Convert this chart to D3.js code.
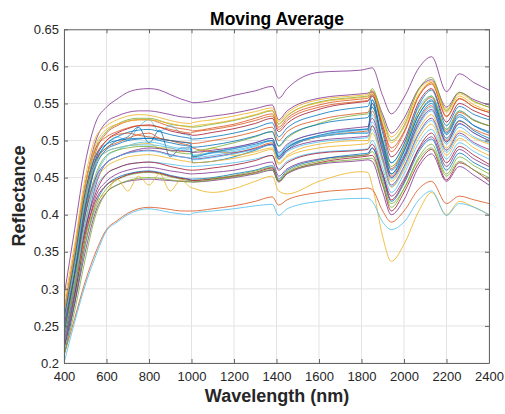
<!DOCTYPE html>
<html>
<head>
<meta charset="utf-8">
<script src="https://cdn.jsdelivr.net/npm/d3@7"></script>
<style>
  body { margin: 0; background: #fff; }
  svg { display: block; font-family: "Liberation Sans", Arial, sans-serif; }
</style>
</head>
<body>
<svg id="chart" width="505" height="414"></svg>
<script>
// ---------- DATA ----------
const wavelengths = [400,450,500,550,600,650,700,750,800,850,900,950,995,1005,1100,1200,1300,1380,1410,1450,1600,1800,1830,1850,1900,1940,2000,2070,2130,2200,2260,2330,2400];
const xTicks = [400,600,800,1000,1200,1400,1600,1800,2000,2200,2400];
const yTicks = [0.2,0.25,0.3,0.35,0.4,0.45,0.5,0.55,0.6,0.65];

const r01 = [0.29,0.38,0.47,0.525,0.545,0.556,0.565,0.569,0.570,0.568,0.562,0.556,0.552,0.551,0.554,0.561,0.567,0.573,0.557,0.570,0.592,0.595,0.597,0.598,0.560,0.536,0.558,0.598,0.613,0.566,0.590,0.578,0.568];
const r02 = [0.27,0.35,0.44,0.50,0.525,0.533,0.538,0.540,0.540,0.538,0.535,0.532,0.531,0.530,0.533,0.537,0.543,0.548,0.528,0.540,0.557,0.563,0.564,0.566,0.535,0.510,0.530,0.570,0.582,0.545,0.565,0.555,0.548];
const r03 = [0.28,0.36,0.45,0.505,0.52,0.528,0.533,0.535,0.534,0.531,0.527,0.524,0.523,0.524,0.528,0.533,0.539,0.544,0.526,0.537,0.555,0.561,0.562,0.568,0.53,0.505,0.525,0.568,0.58,0.542,0.563,0.552,0.545];
const r04 = [0.26,0.34,0.43,0.49,0.512,0.522,0.528,0.53,0.53,0.527,0.522,0.52,0.519,0.518,0.522,0.527,0.534,0.54,0.522,0.533,0.552,0.559,0.56,0.57,0.53,0.50,0.52,0.57,0.585,0.54,0.565,0.553,0.545];
const r05 = [0.25,0.33,0.42,0.485,0.51,0.52,0.526,0.528,0.528,0.524,0.519,0.516,0.514,0.513,0.517,0.522,0.53,0.536,0.518,0.53,0.548,0.556,0.557,0.565,0.52,0.49,0.512,0.56,0.576,0.532,0.556,0.545,0.538];
const r06 = [0.24,0.32,0.41,0.47,0.495,0.505,0.50,0.518,0.528,0.512,0.52,0.51,0.506,0.48,0.485,0.49,0.497,0.503,0.482,0.493,0.51,0.515,0.515,0.555,0.50,0.47,0.495,0.545,0.56,0.515,0.54,0.528,0.52];
const r07 = [0.24,0.32,0.41,0.475,0.50,0.51,0.516,0.52,0.521,0.518,0.513,0.51,0.508,0.507,0.511,0.516,0.523,0.53,0.512,0.523,0.542,0.552,0.553,0.562,0.515,0.478,0.50,0.552,0.57,0.525,0.55,0.54,0.532];
const r08 = [0.23,0.31,0.40,0.47,0.495,0.505,0.511,0.514,0.515,0.512,0.508,0.505,0.503,0.502,0.505,0.51,0.517,0.524,0.505,0.517,0.535,0.545,0.546,0.56,0.51,0.47,0.495,0.548,0.568,0.52,0.546,0.535,0.528];
const r09 = [0.26,0.34,0.43,0.48,0.50,0.508,0.51,0.507,0.505,0.503,0.50,0.498,0.497,0.496,0.50,0.505,0.512,0.518,0.50,0.512,0.528,0.537,0.538,0.55,0.50,0.462,0.49,0.54,0.558,0.512,0.538,0.527,0.52];
const r10 = [0.25,0.33,0.42,0.475,0.49,0.50,0.505,0.518,0.497,0.514,0.478,0.49,0.49,0.47,0.472,0.478,0.487,0.495,0.475,0.487,0.505,0.51,0.51,0.555,0.49,0.455,0.485,0.535,0.555,0.51,0.535,0.52,0.51];
const r11 = [0.24,0.32,0.41,0.47,0.49,0.497,0.503,0.508,0.51,0.503,0.50,0.496,0.493,0.49,0.485,0.484,0.49,0.497,0.478,0.49,0.505,0.512,0.513,0.54,0.49,0.452,0.478,0.528,0.547,0.50,0.526,0.515,0.507];
const r12 = [0.22,0.30,0.385,0.45,0.478,0.487,0.493,0.497,0.498,0.496,0.492,0.489,0.487,0.477,0.48,0.485,0.492,0.50,0.48,0.492,0.506,0.514,0.515,0.535,0.487,0.45,0.475,0.525,0.545,0.498,0.522,0.51,0.50];
const r13 = [0.25,0.33,0.42,0.47,0.485,0.49,0.493,0.495,0.496,0.49,0.49,0.485,0.485,0.478,0.49,0.48,0.485,0.49,0.47,0.48,0.495,0.50,0.50,0.52,0.478,0.445,0.47,0.515,0.535,0.49,0.513,0.503,0.495];
const r14 = [0.22,0.29,0.375,0.44,0.47,0.478,0.483,0.486,0.487,0.485,0.481,0.478,0.476,0.475,0.478,0.483,0.489,0.495,0.476,0.487,0.50,0.505,0.506,0.52,0.475,0.44,0.465,0.51,0.53,0.487,0.51,0.497,0.488];
const r15 = [0.24,0.31,0.39,0.445,0.465,0.473,0.478,0.48,0.481,0.479,0.476,0.473,0.471,0.47,0.472,0.476,0.482,0.488,0.468,0.478,0.49,0.495,0.496,0.51,0.47,0.437,0.46,0.503,0.522,0.48,0.503,0.49,0.48];
const r16 = [0.23,0.30,0.38,0.435,0.455,0.463,0.468,0.47,0.471,0.47,0.468,0.466,0.465,0.465,0.467,0.47,0.475,0.48,0.462,0.472,0.484,0.488,0.489,0.50,0.462,0.43,0.455,0.497,0.515,0.475,0.497,0.485,0.475];
const r17 = [0.22,0.29,0.37,0.425,0.445,0.455,0.46,0.463,0.464,0.462,0.459,0.457,0.455,0.455,0.457,0.46,0.466,0.471,0.452,0.462,0.475,0.48,0.481,0.49,0.455,0.425,0.448,0.488,0.505,0.465,0.488,0.475,0.465];
const r18 = [0.21,0.28,0.36,0.415,0.44,0.45,0.455,0.458,0.459,0.457,0.453,0.45,0.448,0.448,0.45,0.455,0.46,0.466,0.448,0.46,0.474,0.482,0.483,0.49,0.45,0.418,0.442,0.485,0.502,0.46,0.483,0.47,0.46];
const r19 = [0.22,0.285,0.36,0.41,0.435,0.447,0.453,0.456,0.457,0.455,0.451,0.448,0.446,0.446,0.449,0.453,0.459,0.464,0.446,0.458,0.472,0.48,0.481,0.485,0.445,0.41,0.435,0.478,0.495,0.455,0.478,0.466,0.455];
const r20 = [0.23,0.295,0.37,0.42,0.44,0.448,0.454,0.457,0.458,0.456,0.452,0.449,0.447,0.446,0.448,0.452,0.457,0.463,0.445,0.456,0.47,0.478,0.479,0.48,0.44,0.405,0.43,0.47,0.488,0.447,0.47,0.46,0.445];
const r21 = [0.22,0.28,0.35,0.405,0.43,0.44,0.445,0.447,0.448,0.447,0.446,0.445,0.445,0.444,0.446,0.45,0.455,0.46,0.444,0.455,0.468,0.473,0.474,0.472,0.43,0.40,0.42,0.465,0.482,0.445,0.465,0.453,0.44];
const r22 = [0.24,0.30,0.37,0.415,0.43,0.448,0.432,0.452,0.44,0.455,0.432,0.447,0.437,0.436,0.43,0.435,0.445,0.452,0.432,0.428,0.445,0.458,0.457,0.44,0.37,0.337,0.36,0.405,0.43,0.40,0.418,0.41,0.40];
const r23 = [0.21,0.26,0.31,0.35,0.38,0.392,0.402,0.408,0.41,0.409,0.407,0.405,0.405,0.405,0.408,0.412,0.418,0.424,0.413,0.42,0.43,0.435,0.436,0.434,0.405,0.39,0.405,0.435,0.445,0.415,0.425,0.42,0.415];
const r24 = [0.20,0.255,0.305,0.345,0.378,0.39,0.40,0.406,0.408,0.406,0.403,0.401,0.40,0.402,0.405,0.408,0.412,0.414,0.399,0.408,0.418,0.422,0.422,0.418,0.39,0.38,0.39,0.42,0.432,0.399,0.415,0.41,0.40];
const r25 = [0.24,0.31,0.40,0.455,0.48,0.487,0.49,0.492,0.492,0.49,0.486,0.483,0.482,0.484,0.49,0.497,0.505,0.512,0.492,0.503,0.523,0.535,0.536,0.545,0.50,0.465,0.49,0.54,0.56,0.515,0.54,0.527,0.52];
const r26 = [0.27,0.35,0.44,0.49,0.505,0.512,0.517,0.52,0.52,0.518,0.515,0.512,0.51,0.511,0.515,0.52,0.527,0.533,0.515,0.527,0.545,0.553,0.554,0.56,0.52,0.485,0.51,0.56,0.578,0.533,0.557,0.545,0.538];
const r27 = [0.25,0.33,0.42,0.47,0.485,0.49,0.493,0.494,0.494,0.493,0.49,0.487,0.485,0.48,0.483,0.487,0.493,0.50,0.48,0.49,0.505,0.51,0.51,0.525,0.483,0.448,0.472,0.52,0.54,0.495,0.518,0.505,0.497];
const r28 = [0.26,0.34,0.43,0.48,0.495,0.50,0.502,0.503,0.503,0.502,0.50,0.498,0.496,0.478,0.484,0.489,0.495,0.50,0.478,0.49,0.507,0.515,0.516,0.55,0.495,0.455,0.48,0.53,0.55,0.503,0.527,0.513,0.503];
const r29 = [0.25,0.32,0.40,0.45,0.47,0.478,0.484,0.488,0.49,0.489,0.487,0.486,0.485,0.484,0.487,0.491,0.497,0.503,0.484,0.495,0.51,0.518,0.519,0.53,0.485,0.45,0.476,0.523,0.542,0.498,0.523,0.51,0.50];
const r30 = [0.23,0.30,0.38,0.43,0.455,0.463,0.468,0.47,0.471,0.469,0.465,0.462,0.46,0.46,0.463,0.467,0.473,0.48,0.46,0.47,0.483,0.487,0.488,0.495,0.455,0.42,0.445,0.49,0.51,0.47,0.492,0.48,0.468];
const r31 = [0.27,0.35,0.44,0.495,0.515,0.522,0.526,0.528,0.528,0.526,0.523,0.52,0.518,0.519,0.523,0.528,0.535,0.541,0.523,0.534,0.551,0.558,0.559,0.563,0.525,0.497,0.518,0.563,0.578,0.538,0.56,0.548,0.54];
const r32 = [0.24,0.32,0.41,0.465,0.488,0.495,0.5,0.502,0.503,0.5,0.497,0.494,0.492,0.491,0.494,0.499,0.506,0.512,0.493,0.505,0.522,0.53,0.531,0.545,0.498,0.46,0.486,0.535,0.553,0.508,0.532,0.52,0.512];
const r33 = [0.23,0.30,0.39,0.445,0.47,0.478,0.483,0.485,0.486,0.484,0.48,0.478,0.476,0.474,0.477,0.482,0.488,0.494,0.474,0.485,0.498,0.503,0.504,0.515,0.472,0.438,0.463,0.508,0.527,0.484,0.507,0.495,0.485];
const r34 = [0.21,0.27,0.34,0.40,0.43,0.44,0.446,0.449,0.45,0.449,0.447,0.445,0.444,0.444,0.447,0.451,0.456,0.461,0.445,0.456,0.469,0.475,0.476,0.476,0.44,0.415,0.435,0.475,0.49,0.452,0.472,0.46,0.45];

const spectra = [r01,r02,r03,r04,r05,r06,r07,r08,r09,r10,r11,r12,r13,r14,r15,r16,r17,r18,r19,r20,r21,r22,r23,r24,r25,r26,r27,r28,r29,r30,r31,r32,r33,r34];

// ---------- STYLE ----------
const C = {b:"#0072BD", o:"#D95319", y:"#EDB120", p:"#7E2F8E", g:"#77AC30", c:"#4DBEEE", m:"#A2142F"};
const seriesColors = [C.p,C.p,C.y,C.g,C.o,C.c,C.m,C.b,C.o,C.b,C.o,C.c,C.y,C.p,C.y,C.c,C.p,C.b,C.g,C.m,C.p,C.y,C.o,C.c,C.g,C.o,C.c,C.b,C.p,C.m,C.y,C.b,C.c,C.g];

const svg = d3.select("#chart");
const L = 64, R = 489, T = 29.3, B = 363;
const x = d3.scaleLinear().domain([400,2400]).range([L,R]);
const y = d3.scaleLinear().domain([0.2,0.65]).range([B,T]);

// grid
const grid = svg.append("g");
grid.selectAll("line.gx").data(xTicks).join("line")
  .attr("x1", d=>x(d)).attr("x2", d=>x(d)).attr("y1", T).attr("y2", B)
  .attr("stroke", "#e3e3e3").attr("stroke-width", 1);
grid.selectAll("line.gy").data(yTicks).join("line")
  .attr("y1", d=>y(d)).attr("y2", d=>y(d)).attr("x1", L).attr("x2", R)
  .attr("stroke", "#e3e3e3").attr("stroke-width", 1);

// clip
svg.append("clipPath").attr("id","clip").append("rect")
  .attr("x", L).attr("y", T).attr("width", R-L).attr("height", B-T);

const line = d3.line()
  .x((d,i)=>x(wavelengths[i]))
  .y(d=>y(d))
  .curve(d3.curveMonotoneX);

svg.append("g").attr("clip-path","url(#clip)")
  .selectAll("path").data(spectra).join("path")
  .attr("d", line)
  .attr("fill","none")
  .attr("stroke",(d,i)=>seriesColors[i])
  .attr("stroke-width",0.8);

// axes
const axisColor = "#666";
const fmtY = d => String(+d.toFixed(2));
const gB = svg.append("g").attr("transform",`translate(0,${B})`)
  .call(d3.axisBottom(x).tickValues(xTicks).tickSizeInner(-4).tickSizeOuter(0).tickPadding(9).tickFormat(d3.format("d")));
const gT = svg.append("g").attr("transform",`translate(0,${T})`)
  .call(d3.axisTop(x).tickValues(xTicks).tickSizeInner(-4).tickSizeOuter(0).tickFormat(""));
const gL = svg.append("g").attr("transform",`translate(${L},0)`)
  .call(d3.axisLeft(y).tickValues(yTicks).tickSizeInner(-4).tickSizeOuter(0).tickPadding(5).tickFormat(fmtY));
const gR = svg.append("g").attr("transform",`translate(${R},0)`)
  .call(d3.axisRight(y).tickValues(yTicks).tickSizeInner(-4).tickSizeOuter(0).tickFormat(""));
[gB,gT,gL,gR].forEach(g=>{
  g.select(".domain").attr("stroke",axisColor);
  g.selectAll(".tick line").attr("stroke",axisColor);
  g.selectAll(".tick text").attr("fill","#262626").style("font-size","13px")
    .style("font-family",'"Liberation Sans", Arial, sans-serif');
});

// titles
svg.append("text").attr("x", 277).attr("y", 24.5).attr("text-anchor","middle")
  .style("font-size","17.5px").style("font-weight","bold").attr("fill","#000")
  .text("Moving Average");
svg.append("text").attr("x", 277).attr("y", 402).attr("text-anchor","middle")
  .style("font-size","18px").style("font-weight","bold").attr("fill","#262626")
  .text("Wavelength (nm)");
svg.append("text").attr("transform","translate(25,196) rotate(-90)").attr("text-anchor","middle")
  .style("font-size","18px").style("font-weight","bold").attr("fill","#262626")
  .text("Reflectance");
</script>
</body>
</html>
